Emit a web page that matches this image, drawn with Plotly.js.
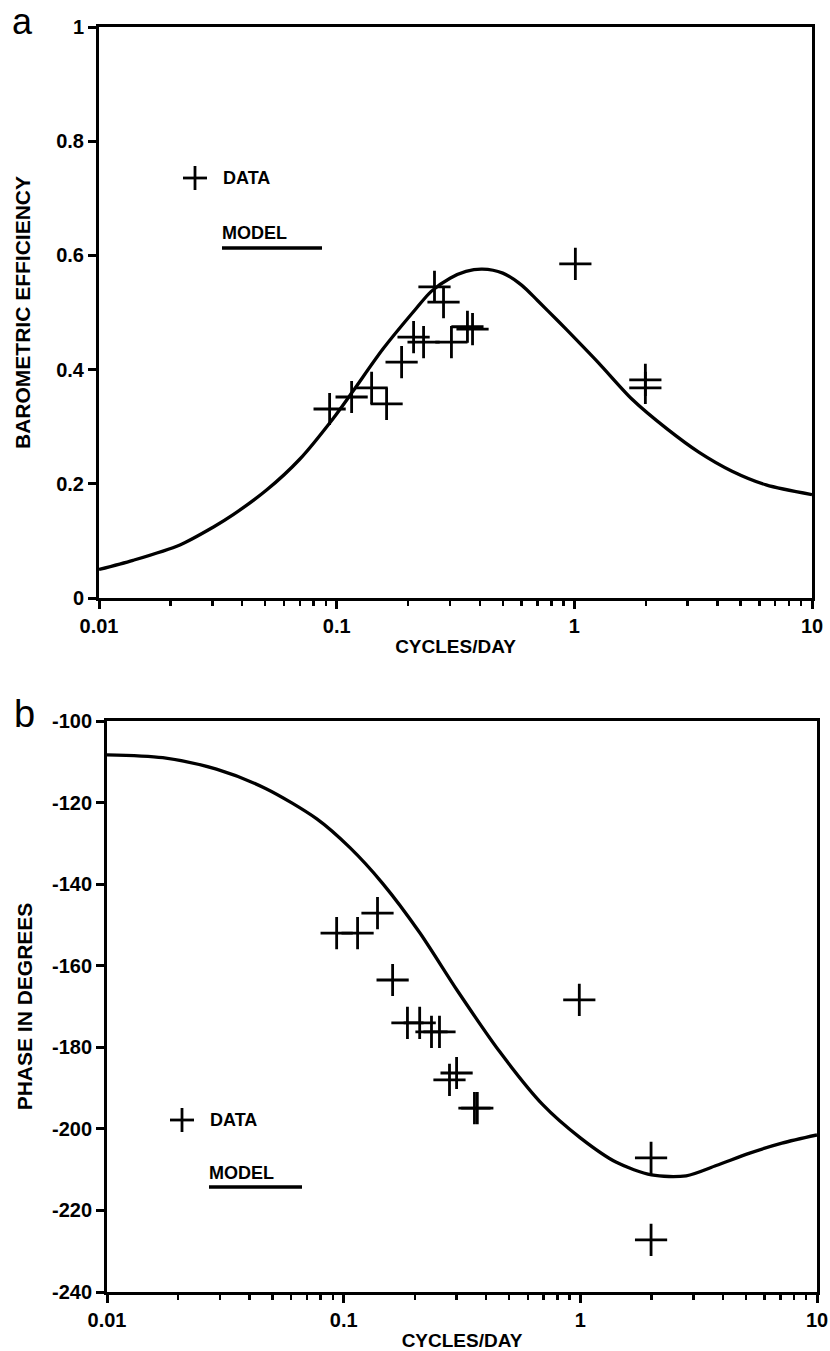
<!DOCTYPE html>
<html>
<head>
<meta charset="utf-8">
<script src="https://cdn.plot.ly/plotly-3.0.1.min.js"></script>
<style>html,body{margin:0;padding:0;background:#fff;}</style>
</head>
<body>
<div id="chart" style="width:830px;height:1351px;"></div>
<script>
// ---- Panel a: barometric efficiency ----
const effDataX = [0.0934, 0.1156, 0.1403, 0.1622, 0.1876, 0.2107, 0.2321, 0.258, 0.2816, 0.304, 0.355, 0.373, 1.01, 1.99, 1.99];
const effDataY = [0.331, 0.352, 0.368, 0.340, 0.413, 0.457, 0.448, 0.545, 0.518, 0.448, 0.475, 0.471, 0.585, 0.382, 0.368];
const effModelX = [0.01, 0.0139, 0.0219, 0.0302, 0.0367, 0.0507, 0.0699, 0.0965, 0.117, 0.1565, 0.216, 0.25, 0.30, 0.35, 0.41, 0.50, 0.60, 0.70, 0.85, 1.0, 1.27, 1.75, 2.44, 3.35, 4.61, 6.41, 10];
const effModelY = [0.050, 0.066, 0.093, 0.124, 0.146, 0.189, 0.243, 0.314, 0.362, 0.436, 0.507, 0.537, 0.560, 0.572, 0.576, 0.569, 0.548, 0.521, 0.486, 0.456, 0.411, 0.348, 0.297, 0.255, 0.222, 0.198, 0.181];

// ---- Panel b: phase ----
const phDataX = [0.0934, 0.1145, 0.139, 0.161, 0.186, 0.2095, 0.235, 0.254, 0.280, 0.300, 0.357, 0.367, 0.99, 1.99, 1.99];
const phDataY = [-152, -152, -147.1, -163.5, -174, -174, -176.2, -176.2, -188, -186.3, -194.9, -194.9, -168.4, -207.1, -227.2];
const phModelX = [0.01, 0.0172, 0.029, 0.047, 0.077, 0.106, 0.146, 0.209, 0.303, 0.455, 0.692, 1.0, 1.42, 2.0, 2.8, 3.75, 5.16, 7.11, 10];
const phModelY = [-108.3, -109.0, -111.8, -116.6, -124.0, -131.0, -139.8, -151.8, -166.2, -181.0, -194.0, -202.2, -208.2, -211.3, -211.5, -209.0, -206.0, -203.5, -201.5];

// ---- Ticks ----
const xMajorVals = [0.01, 0.1, 1, 10];
const xMajorText = ['0.01', '0.1', '1', '10'];
const xMinorVals = [0.02,0.03,0.04,0.05,0.06,0.07,0.08,0.09, 0.2,0.3,0.4,0.5,0.6,0.7,0.8,0.9, 2,3,4,5,6,7,8,9];
const effTickVals = [0, 0.2, 0.4, 0.6, 0.8, 1];
const effTickText = ['0', '0.2', '0.4', '0.6', '0.8', '1'];
const phTickVals = [-240, -220, -200, -180, -160, -140, -120, -100];
const phTickText = ['-240', '-220', '-200', '-180', '-160', '-140', '-120', '-100'];

const W = 830, H = 1351;
const px = v => v / W;
const py = v => 1 - v / H;
const FONT = 'Liberation Sans, Arial, sans-serif';
const bold = s => '<b>' + s + '</b>';

const markerStyle = {symbol: 'cross-thin-open', size: 23, color: 'black', line: {width: 2.8, color: 'black'}};
const lineStyle = {color: 'black', width: 3.3, shape: 'spline', smoothing: 0.8};

const traces = [
  {x: effModelX, y: effModelY, xaxis: 'x', yaxis: 'y', mode: 'lines', line: lineStyle, name: 'MODEL', showlegend: false, hoverinfo: 'skip'},
  {x: effDataX, y: effDataY, xaxis: 'x', yaxis: 'y', mode: 'markers', marker: markerStyle, name: 'DATA', showlegend: false},
  {x: phModelX, y: phModelY, xaxis: 'x2', yaxis: 'y2', mode: 'lines', line: lineStyle, name: 'MODEL', showlegend: false, hoverinfo: 'skip'},
  {x: phDataX, y: phDataY, xaxis: 'x2', yaxis: 'y2', mode: 'markers', marker: markerStyle, name: 'DATA', showlegend: false}
];

const tickFont = {family: FONT, size: 20, color: 'black'};
const titleFont = {family: FONT, size: 19, color: 'black'};

function xAxis(domain, anchor) {
  return {
    type: 'log', range: [-2, 1], domain: domain, anchor: anchor,
    showline: true, linewidth: 3, linecolor: 'black', mirror: true,
    showgrid: false, zeroline: false,
    tickmode: 'array', tickvals: xMajorVals, ticktext: xMajorText.map(bold),
    ticks: 'outside', ticklen: 8, tickwidth: 3, tickcolor: 'black',
    tickfont: tickFont,
    minor: {tickmode: 'array', tickvals: xMinorVals, ticks: 'outside', ticklen: 5, tickwidth: 2.5, tickcolor: 'black', showgrid: false},
    title: {text: bold('CYCLES/DAY'), font: titleFont, standoff: 4}
  };
}
function yAxis(domain, anchor, range, vals, text, title, standoff) {
  return {
    range: range, domain: domain, anchor: anchor,
    showline: true, linewidth: 3, linecolor: 'black', mirror: true,
    showgrid: false, zeroline: false,
    tickmode: 'array', tickvals: vals, ticktext: text.map(bold),
    ticks: 'outside', ticklen: 8, tickwidth: 3, tickcolor: 'black',
    tickfont: tickFont,
    title: {text: bold(title), font: {family: FONT, size: 21, color: 'black'}, standoff: standoff}
  };
}

function legendShapes(plusX, plusY, ulX0, ulX1, ulY) {
  const r = 12;
  return [
    {type: 'line', xref: 'paper', yref: 'paper', x0: px(plusX - r), x1: px(plusX + r), y0: py(plusY), y1: py(plusY), line: {color: 'black', width: 2.8}},
    {type: 'line', xref: 'paper', yref: 'paper', x0: px(plusX), x1: px(plusX), y0: py(plusY - r), y1: py(plusY + r), line: {color: 'black', width: 2.8}},
    {type: 'line', xref: 'paper', yref: 'paper', x0: px(ulX0), x1: px(ulX1), y0: py(ulY), y1: py(ulY), line: {color: 'black', width: 3.5}}
  ];
}

const legFont = {family: FONT, size: 18, color: 'black'};
const layout = {
  width: W, height: H,
  margin: {l: 0, r: 0, t: 0, b: 0},
  paper_bgcolor: 'white', plot_bgcolor: 'white',
  showlegend: false,
  xaxis: xAxis([px(99), px(812)], 'y'),
  yaxis: yAxis([py(598), py(27)], 'x', [0, 1], effTickVals, effTickText, 'BAROMETRIC EFFICIENCY', 20),
  xaxis2: xAxis([px(107), px(817)], 'y2'),
  yaxis2: yAxis([py(1292), py(721)], 'x2', [-240, -100], phTickVals, phTickText, 'PHASE IN DEGREES', 14),
  shapes: [].concat(legendShapes(195, 178, 222, 322, 248), legendShapes(182, 1120, 209, 302, 1187)),
  annotations: [
    {text: 'a', xref: 'paper', yref: 'paper', x: px(11), y: py(0), xanchor: 'left', yanchor: 'top', borderpad: 0, showarrow: false, font: {family: FONT, size: 36, color: 'black'}},
    {text: 'b', xref: 'paper', yref: 'paper', x: px(13), y: py(692), xanchor: 'left', yanchor: 'top', borderpad: 0, showarrow: false, font: {family: FONT, size: 38, color: 'black'}},
    {text: bold('DATA'), xref: 'paper', yref: 'paper', x: px(221), y: py(178), xanchor: 'left', yanchor: 'middle', showarrow: false, font: legFont},
    {text: bold('MODEL'), xref: 'paper', yref: 'paper', x: px(220), y: py(233), xanchor: 'left', yanchor: 'middle', showarrow: false, font: legFont},
    {text: bold('DATA'), xref: 'paper', yref: 'paper', x: px(208), y: py(1120), xanchor: 'left', yanchor: 'middle', showarrow: false, font: legFont},
    {text: bold('MODEL'), xref: 'paper', yref: 'paper', x: px(207), y: py(1173), xanchor: 'left', yanchor: 'middle', showarrow: false, font: legFont}
  ]
};

Plotly.newPlot('chart', traces, layout, {staticPlot: true, displayModeBar: false});
</script>
</body>
</html>
